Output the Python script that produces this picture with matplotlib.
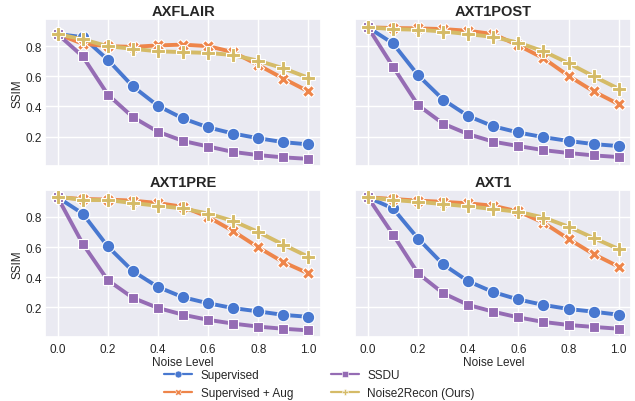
import numpy as np
import matplotlib
matplotlib.use("Agg")
import matplotlib.pyplot as plt
import seaborn as sns
from matplotlib.lines import Line2D

sns.set_theme(style="darkgrid")
plt.rcParams["font.family"] = ["Liberation Sans", "DejaVu Sans"]

noise = [0.0, 0.1, 0.2, 0.3, 0.4, 0.5, 0.6, 0.7, 0.8, 0.9, 1.0]
datasets = ["AXFLAIR", "AXT1POST", "AXT1PRE", "AXT1"]
methods = ["Supervised", "Supervised + Aug", "SSDU", "Noise2Recon (Ours)"]

# SSIM per dataset, per method
axflair_sup = [0.88, 0.86, 0.71, 0.533, 0.404, 0.32, 0.261, 0.22, 0.189, 0.163, 0.148]
axflair_aug = [0.88, 0.816, 0.80, 0.795, 0.805, 0.81, 0.80, 0.76, 0.675, 0.585, 0.50]
axflair_ssdu = [0.88, 0.732, 0.479, 0.329, 0.232, 0.171, 0.134, 0.098, 0.077, 0.062, 0.052]
axflair_n2r = [0.88, 0.845, 0.80, 0.782, 0.766, 0.76, 0.755, 0.741, 0.703, 0.653, 0.59]

axt1post_sup = [0.925, 0.818, 0.607, 0.445, 0.336, 0.268, 0.227, 0.196, 0.171, 0.15, 0.137]
axt1post_aug = [0.925, 0.92, 0.918, 0.913, 0.902, 0.88, 0.805, 0.72, 0.603, 0.50, 0.415]
axt1post_ssdu = [0.925, 0.664, 0.408, 0.286, 0.216, 0.166, 0.137, 0.11, 0.091, 0.075, 0.064]
axt1post_n2r = [0.925, 0.913, 0.909, 0.897, 0.88, 0.861, 0.823, 0.766, 0.687, 0.60, 0.517]

axt1pre_sup = [0.93, 0.822, 0.604, 0.44, 0.335, 0.267, 0.227, 0.195, 0.173, 0.15, 0.137]
axt1pre_aug = [0.93, 0.919, 0.915, 0.908, 0.892, 0.867, 0.80, 0.706, 0.598, 0.50, 0.425]
axt1pre_ssdu = [0.93, 0.622, 0.38, 0.263, 0.196, 0.151, 0.117, 0.092, 0.072, 0.058, 0.047]
axt1pre_n2r = [0.935, 0.912, 0.912, 0.892, 0.874, 0.856, 0.822, 0.773, 0.70, 0.616, 0.535]

axt1_sup = [0.93, 0.856, 0.656, 0.485, 0.373, 0.301, 0.252, 0.216, 0.189, 0.171, 0.151]
axt1_aug = [0.93, 0.919, 0.908, 0.90, 0.89, 0.874, 0.836, 0.762, 0.654, 0.553, 0.47]
axt1_ssdu = [0.93, 0.683, 0.425, 0.294, 0.216, 0.171, 0.133, 0.103, 0.083, 0.07, 0.058]
axt1_n2r = [0.93, 0.912, 0.90, 0.885, 0.87, 0.852, 0.834, 0.796, 0.735, 0.66, 0.587]

results = {
    "AXFLAIR": [axflair_sup, axflair_aug, axflair_ssdu, axflair_n2r],
    "AXT1POST": [axt1post_sup, axt1post_aug, axt1post_ssdu, axt1post_n2r],
    "AXT1PRE": [axt1pre_sup, axt1pre_aug, axt1pre_ssdu, axt1pre_n2r],
    "AXT1": [axt1_sup, axt1_aug, axt1_ssdu, axt1_n2r],
}

pal = sns.color_palette("muted")
colors = [pal[0], pal[1], pal[4], pal[8]]
markers = ["o", "X", "s", "P"]
msizes = [9, 9, 7, 10]

fig, axes = plt.subplots(2, 2, figsize=(6.35, 4.02), sharex=True, sharey=True)
fig.subplots_adjust(left=0.071, right=0.994, top=0.950, bottom=0.159,
                    hspace=0.16, wspace=0.125)

# draw in order so yellow ends on top
order = [0, 2, 1, 3]
for ax, name in zip(axes.flat, datasets):
    for i in order:
        ax.plot(noise, results[name][i], color=colors[i], marker=markers[i],
                markersize=msizes[i], markeredgecolor="white", markeredgewidth=0.8,
                lw=2.8, zorder=2 + i)
    ax.set_title(name, fontsize=10.5, fontweight="bold", pad=3)
    ax.tick_params(labelsize=8.5, length=0)
    ax.tick_params(axis="x", pad=4)
    ax.tick_params(axis="y", pad=2)
    ax.set_xticks([0.0, 0.2, 0.4, 0.6, 0.8, 1.0])
    ax.set_yticks([0.2, 0.4, 0.6, 0.8])

for ax in axes[:, 0]:
    ax.set_ylabel("SSIM", fontsize=8.5, labelpad=2)
for ax in axes[1, :]:
    ax.set_xlabel("Noise Level", fontsize=8.5, labelpad=1)

handles = [Line2D([], [], color=colors[i], marker=markers[i], markersize=5,
                  markeredgecolor="white", markeredgewidth=0.4, lw=1.6)
           for i in range(4)]
fig.legend(handles, methods, loc="center", bbox_to_anchor=(0.503, 0.042), ncol=2,
           frameon=False, fontsize=8.5, handlelength=2.4, columnspacing=3.2,
           handletextpad=0.7, labelspacing=0.55, borderpad=0)

plt.savefig("out.png", dpi=100)
